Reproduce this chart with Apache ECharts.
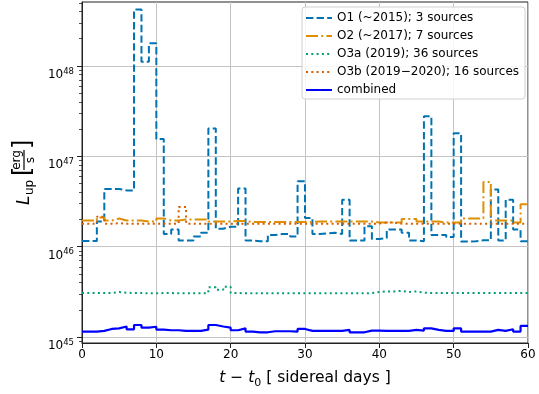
<!DOCTYPE html>
<html>
<head>
<meta charset="utf-8">
<script src="https://cdn.jsdelivr.net/npm/echarts@6/dist/echarts.min.js"></script>
<style>
html,body{margin:0;padding:0;background:#fff;}
#chart{width:539px;height:394px;}
</style>
</head>
<body>
<div id="chart"></div>
<script>
// bin edges in sidereal days (one bin per day)
var days = [0,1,2,3,4,5,6,7,8,9,10,11,12,13,14,15,16,17,18,19,20,21,22,23,24,25,26,27,28,29,
    30,31,32,33,34,35,36,37,38,39,40,41,42,43,44,45,46,47,48,49,50,51,52,53,54,55,56,57,58,59,60];

var seriesNames = ['O1 (~2015); 3 sources', 'O2 (~2017); 7 sources', 'O3a (2019); 36 sources',
    'O3b (2019\u22122020); 16 sources', 'combined'];

var o1 = [1.16e46,1.16e46,1.9e46,4.35e46,4.35e46,4.2e46,4.2e46,4.2e48,1.11e48,1.78e48,
    1.55e47,1.38e46,1.55e46,1.17e46,1.17e46,1.3e46,1.43e46,2.03e47,1.58e46,1.66e46,
    1.66e46,4.4e46,1.17e46,1.15e46,1.15e46,1.35e46,1.38e46,1.38e46,1.3e46,5.3e46,
    2.08e46,1.38e46,1.4e46,1.43e46,1.38e46,3.3e46,1.17e46,1.17e46,1.68e46,1.22e46,
    1.25e46,1.55e46,1.55e46,1.43e46,1.17e46,1.15e46,2.77e47,1.35e46,1.35e46,1.28e46,
    1.8e47,1.14e46,1.15e46,1.18e46,1.18e46,4.3e46,1.17e46,3.3e46,1.55e46,1.15e46];

var o2 = [1.95e46,1.95e46,2.1e46,1.95e46,2.05e46,1.95e46,1.95e46,1.95e46,1.9e46,1.9e46,
    2.05e46,1.95e46,1.95e46,2.0e46,2.0e46,2.0e46,2.0e46,1.9e46,1.9e46,1.9e46,
    1.92e46,1.92e46,1.88e46,1.88e46,1.88e46,1.88e46,1.88e46,1.88e46,1.88e46,1.88e46,
    1.88e46,1.9e46,1.9e46,1.9e46,1.9e46,1.9e46,1.9e46,1.9e46,1.9e46,1.85e46,
    1.85e46,1.85e46,1.85e46,2.02e46,2.02e46,1.9e46,1.9e46,1.9e46,1.85e46,1.85e46,
    1.85e46,2.05e46,2.05e46,2.05e46,5.2e46,1.95e46,1.95e46,1.95e46,1.85e46,2.95e46];

var o3a = [3.07e45,3.07e45,3.07e45,3.07e45,3.15e45,3.1e45,3.07e45,3.07e45,3.05e45,3.05e45,
    3.07e45,3.07e45,3.05e45,3.05e45,3.05e45,3.05e45,3.07e45,3.55e45,3.35e45,3.6e45,
    3.07e45,3.05e45,3.05e45,3.05e45,3.05e45,3.05e45,3.05e45,3.05e45,3.05e45,3.05e45,
    3.05e45,3.05e45,3.05e45,3.05e45,3.05e45,3.05e45,3.05e45,3.05e45,3.07e45,3.15e45,
    3.2e45,3.2e45,3.25e45,3.15e45,3.2e45,3.1e45,3.07e45,3.07e45,3.07e45,3.07e45,
    3.07e45,3.07e45,3.07e45,3.07e45,3.07e45,3.07e45,3.07e45,3.07e45,3.07e45,3.07e45];

var o3b = [1.8e46,1.8e46,2.15e46,1.8e46,1.82e46,1.8e46,1.8e46,1.8e46,1.8e46,1.8e46,
    1.8e46,1.8e46,1.8e46,2.75e46,1.8e46,1.8e46,1.8e46,1.8e46,1.8e46,1.8e46,
    1.8e46,1.8e46,1.8e46,1.8e46,1.8e46,1.8e46,1.8e46,1.8e46,1.8e46,1.8e46,
    1.8e46,1.8e46,1.8e46,1.8e46,1.8e46,1.8e46,1.8e46,1.8e46,1.8e46,1.8e46,
    1.85e46,1.85e46,1.8e46,1.8e46,1.8e46,1.8e46,1.8e46,1.8e46,1.8e46,1.8e46,
    1.8e46,1.8e46,1.8e46,1.8e46,1.8e46,1.8e46,1.8e46,1.8e46,1.8e46,1.8e46];

var combined = [1.15e45,1.15e45,1.17e45,1.23e45,1.25e45,1.31e45,1.22e45,1.36e45,1.27e45,1.3e45,
    1.21e45,1.19e45,1.19e45,1.17e45,1.17e45,1.17e45,1.21e45,1.36e45,1.31e45,1.27e45,
    1.19e45,1.25e45,1.15e45,1.13e45,1.13e45,1.16e45,1.16e45,1.16e45,1.15e45,1.23e45,
    1.17e45,1.17e45,1.17e45,1.17e45,1.17e45,1.2e45,1.13e45,1.13e45,1.18e45,1.18e45,
    1.17e45,1.17e45,1.17e45,1.17e45,1.2e45,1.18e45,1.25e45,1.2e45,1.17e45,1.17e45,
    1.25e45,1.15e45,1.15e45,1.15e45,1.15e45,1.2e45,1.17e45,1.22e45,1.15e45,1.33e45];

var xTicks = [0,10,20,30,40,50,60];
var yTicks = [1e45,1e46,1e47,1e48];
var yMinorTicks = [9e44,
    2e45,3e45,4e45,5e45,6e45,7e45,8e45,9e45,
    2e46,3e46,4e46,5e46,6e46,7e46,8e46,9e46,
    2e47,3e47,4e47,5e47,6e47,7e47,8e47,9e47,
    2e48,3e48,4e48,5e48];

// step data: value holds until next bin edge
function toSteps(vals){
    var out = [];
    for(var i=0;i<vals.length;i++){
        out.push([days[i], vals[i]]);
    }
    out.push([days[vals.length], vals[vals.length-1]]);
    return out;
}

function stepSeries(name, vals, color, dash, width){
    return {
        name: name,
        type: 'line',
        step: 'end',
        symbol: 'none',
        data: toSteps(vals),
        lineStyle: {color: color, width: width, type: dash, cap: 'butt'},
        itemStyle: {color: color},
        animation: false
    };
}

var font = 'DejaVu Sans';
var chart = echarts.init(document.getElementById('chart'));
var option = {
    animation: false,
    textStyle: {fontFamily: font},
    grid: {left: 82, right: 11, top: 2, bottom: 49, show: true, borderColor: '#222', borderWidth: 1, backgroundColor: 'transparent'},
    legend: {
        orient: 'vertical',
        left: 302, top: 7,
        padding: [5, 6, 3, 3],
        itemWidth: 26, itemHeight: 14, itemGap: 6,
        itemStyle: {opacity: 0},   // hide the marker, keep the line sample
        backgroundColor: 'rgba(255,255,255,0.85)',
        borderColor: '#d0d0d0', borderWidth: 1, borderRadius: 3,
        textStyle: {fontFamily: font, fontSize: 12, color: '#000'},
        data: seriesNames
    },
    xAxis: {
        type: 'value', min: 0, max: 60, interval: 10,
        axisLine: {lineStyle: {color: '#222', width: 1}},
        axisTick: {length: 5, lineStyle: {color: '#222'}, customValues: xTicks},
        axisLabel: {color: '#000', fontSize: 12, margin: 6, customValues: xTicks},
        splitLine: {show: true, lineStyle: {color: '#c4c4c4', width: 1}},
        name: '{i|t}{n| \u2212 }{i|t}{sub|0}{n| [ sidereal days ]}',
        nameLocation: 'middle', nameGap: 23,
        nameTextStyle: {
            rich: {
                i: {fontFamily: font, fontStyle: 'italic', fontSize: 15.5, color: '#000', lineHeight: 20, verticalAlign: 'bottom'},
                n: {fontFamily: font, fontSize: 15.5, color: '#000', lineHeight: 20, verticalAlign: 'bottom'},
                sub: {fontFamily: font, fontSize: 11, color: '#000', lineHeight: 11, verticalAlign: 'bottom', padding: [0,0,-3,0]}
            }
        }
    },
    yAxis: [{
        type: 'log', logBase: 10, min: 8.6e44, max: 5.1e48,
        axisLine: {show: true, lineStyle: {color: '#222', width: 1}},
        axisTick: {show: true, length: 5, lineStyle: {color: '#222'}, customValues: yTicks},
        axisLabel: {
            margin: 8, customValues: yTicks,
            formatter: function(v){
                var e = Math.round(Math.log(v)/Math.LN10);
                return '{b|10}{s|' + e + '}';
            },
            rich: {
                b: {fontFamily: font, fontSize: 12, color: '#000', lineHeight: 12, padding: [9,0,0,0], verticalAlign: 'top'},
                s: {fontFamily: font, fontSize: 8.5, color: '#000', lineHeight: 9, padding: [7,0,0,0], verticalAlign: 'top'}
            }
        },
        splitLine: {show: true, lineStyle: {color: '#c4c4c4', width: 1}}
    }, {
        type: 'log', logBase: 10, min: 8.6e44, max: 5.1e48, position: 'left',
        axisLine: {show: false},
        axisTick: {show: true, length: 3, lineStyle: {color: '#222', width: 0.8}, customValues: yMinorTicks},
        axisLabel: {show: false},
        splitLine: {show: false}
    }],
    series: [
        stepSeries(seriesNames[0], o1, '#0173b2', [7.4, 3.2], 2),
        stepSeries(seriesNames[1], o2, '#de8f05', [12, 3.2, 2, 3.2], 2),
        stepSeries(seriesNames[2], o3a, '#029e73', [2, 3.3], 2),
        stepSeries(seriesNames[3], o3b, '#d55e00', [2, 3.3], 2),
        stepSeries(seriesNames[4], combined, '#0000ff', 'solid', 2.2)
    ],
    graphic: [{
        type: 'group',
        x: 25, y: 172,
        rotation: Math.PI / 2,
        children: [
            {type: 'text', style: {text: 'L', x: -33, y: 0, font: 'italic 17px "DejaVu Sans"', fill: '#000', textAlign: 'left', textVerticalAlign: 'middle', verticalAlign: 'middle'}},
            {type: 'text', style: {text: 'up', x: -23, y: 5, font: '12px "DejaVu Sans"', fill: '#000', textAlign: 'left', textVerticalAlign: 'middle', verticalAlign: 'middle'}},
            {type: 'text', style: {text: '[', x: -4, y: -1, font: '24px "DejaVu Sans"', fill: '#000', textAlign: 'left', textVerticalAlign: 'middle', verticalAlign: 'middle'}},
            {type: 'text', style: {text: 'erg', x: 12, y: -8, font: '12px "DejaVu Sans"', fill: '#000', textAlign: 'center', textVerticalAlign: 'middle', verticalAlign: 'middle'}},
            {type: 'line', shape: {x1: 2, y1: -1, x2: 22, y2: -1}, style: {stroke: '#000', lineWidth: 1.2}},
            {type: 'text', style: {text: 's', x: 12, y: 6, font: '12px "DejaVu Sans"', fill: '#000', textAlign: 'center', textVerticalAlign: 'middle', verticalAlign: 'middle'}},
            {type: 'text', style: {text: ']', x: 23, y: -1, font: '24px "DejaVu Sans"', fill: '#000', textAlign: 'left', textVerticalAlign: 'middle', verticalAlign: 'middle'}}
        ]
    }]
};
chart.setOption(option);
</script>
</body>
</html>
